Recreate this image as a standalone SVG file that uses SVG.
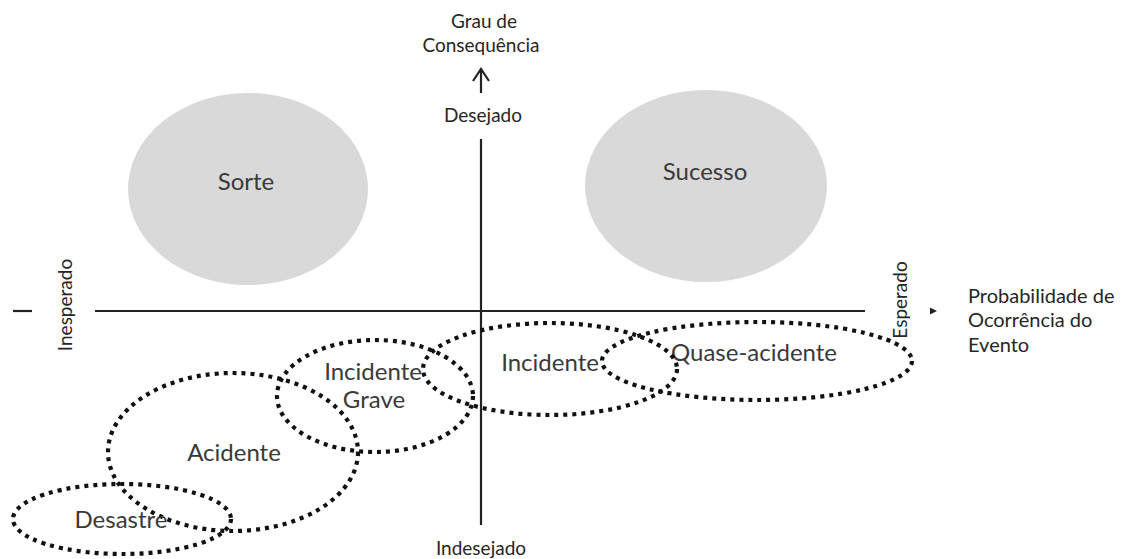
<svg xmlns="http://www.w3.org/2000/svg" width="1124" height="559" viewBox="0 0 1124 559">
  <defs>
    <style>
      .txt { font-family: Lato, "Liberation Sans", sans-serif; fill: #262626; }
      .small { font-size: 19px; }
      .title { font-size: 20px; }
      .big { font-size: 24px; fill: #3a3a3a; }
      .axis { stroke: #222; stroke-width: 2.2; fill: none; }
      .zone { fill: #d9d9d9; stroke: none; }
      .dotted { fill: none; stroke: #111; stroke-width: 4.2; stroke-dasharray: 4 5; }
    </style>
  </defs>
  <rect width="1124" height="559" fill="#ffffff"/>

  <!-- quadrant axes -->
  <g id="axes">
    <line class="axis" x1="481" y1="139" x2="481" y2="525"/>
    <line class="axis" x1="95" y1="311" x2="865" y2="311"/>
    <line class="axis" x1="13" y1="311" x2="32" y2="311"/>
    <!-- open arrow above the vertical axis -->
    <path class="axis" d="M481 93 V69 M473 81 L481 69 L489 81"/>
    <!-- small head at the end of the horizontal axis -->
    <polygon points="930,307.5 937,311 930,314.5" fill="#222"/>
  </g>

  <g id="axis-labels" class="txt small" text-anchor="middle">
    <text x="484" y="28">Grau de</text>
    <text x="481" y="52">Consequência</text>
    <text x="483" y="122">Desejado</text>
    <text x="481" y="555">Indesejado</text>
    <text transform="translate(72,305) rotate(-90)">Inesperado</text>
    <text transform="translate(907,300) rotate(-90)">Esperado</text>
  </g>
  <g id="x-axis-title" class="txt title">
    <text x="968" y="303">Probabilidade de</text>
    <text x="968" y="327">Ocorrência do</text>
    <text x="968" y="352">Evento</text>
  </g>

  <!-- desired outcomes -->
  <g id="sorte">
    <ellipse class="zone" cx="248" cy="189" rx="120" ry="96"/>
    <text class="txt big" x="246" y="190" text-anchor="middle">Sorte</text>
  </g>
  <g id="sucesso">
    <ellipse class="zone" cx="706" cy="186" rx="121" ry="96"/>
    <text class="txt big" x="705" y="180" text-anchor="middle">Sucesso</text>
  </g>

  <!-- undesired outcomes -->
  <g id="quase-acidente">
    <ellipse class="dotted" cx="757" cy="361" rx="155" ry="39"/>
    <text class="txt big" x="754" y="361" text-anchor="middle">Quase-acidente</text>
  </g>
  <g id="incidente">
    <ellipse class="dotted" cx="550" cy="369" rx="127" ry="46"/>
    <text class="txt big" x="550" y="371" text-anchor="middle">Incidente</text>
  </g>
  <g id="incidente-grave">
    <ellipse class="dotted" cx="375" cy="396" rx="98" ry="56"/>
    <text class="txt big" x="373" y="380" text-anchor="middle">Incidente</text>
    <text class="txt big" x="374" y="408" text-anchor="middle">Grave</text>
  </g>
  <g id="acidente">
    <ellipse class="dotted" cx="233" cy="452" rx="125" ry="79"/>
    <text class="txt big" x="234" y="461" text-anchor="middle">Acidente</text>
  </g>
  <g id="desastre">
    <ellipse class="dotted" cx="122" cy="519" rx="109" ry="35"/>
    <text class="txt big" x="121" y="528" text-anchor="middle">Desastre</text>
  </g>

  <g id="connectors"/>
</svg>
